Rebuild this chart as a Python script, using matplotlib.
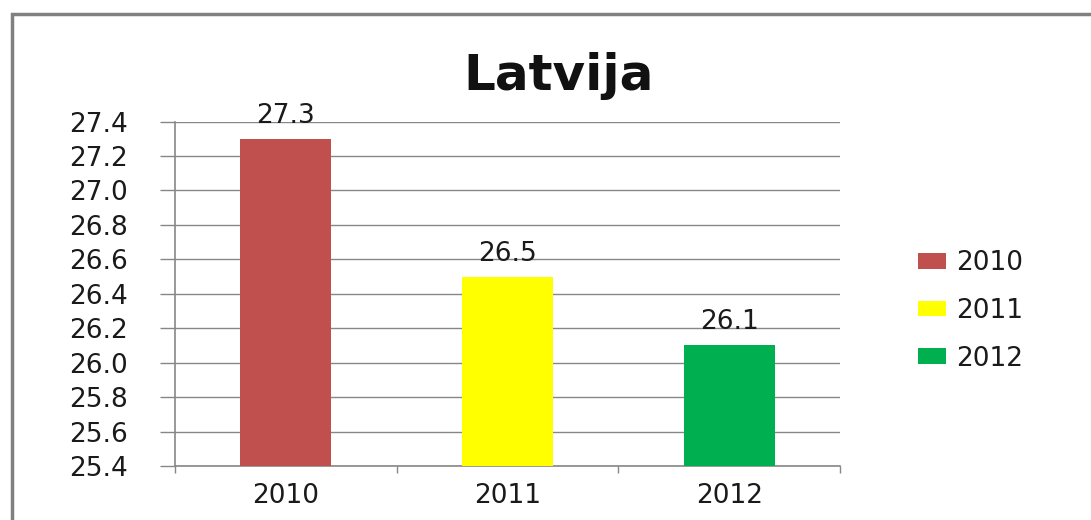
import matplotlib.pyplot as plt
from matplotlib.patches import Patch, Rectangle

# --- Data ---
years = ["2010", "2011", "2012"]
values = [27.3, 26.5, 26.1]
colors = ["#C0504D", "#FFFF00", "#00B050"]
yticks = [25.4, 25.6, 25.8, 26.0, 26.2, 26.4, 26.6, 26.8, 27.0, 27.2, 27.4]

plt.rcParams['font.family'] = ['DejaVu Sans']
grid_col = "#878787"
txt_col = "#1a1a1a"
fs = 19

fig = plt.figure(figsize=(10.91, 5.20), dpi=100)
ax = fig.add_axes([0.1604, 0.1038, 0.6095, 0.6625])

xs = list(range(len(years)))
ax.bar(xs, values, width=0.41, color=colors, zorder=3)

# --- value labels ---
for x, v in zip(xs, values):
    ax.annotate(f"{v:.1f}", (x, v), xytext=(0, 11.5), textcoords="offset points",
                ha="center", va="baseline", fontsize=fs, color=txt_col)

ax.set_ylim(25.4, 27.4)
ax.set_xlim(-0.5, 2.5)
ax.set_yticks(yticks)
ax.set_yticklabels([f"{t:.1f}" for t in yticks])
ax.set_xticks(xs)
ax.set_xticklabels(years)
ax.set_xticks([-0.5, 0.5, 1.5, 2.5], minor=True)

ax.yaxis.grid(True, color=grid_col, linewidth=1, zorder=0)
ax.set_axisbelow(True)
for s in ["top", "right"]:
    ax.spines[s].set_visible(False)
for s in ["left", "bottom"]:
    ax.spines[s].set_color(grid_col)
    ax.spines[s].set_linewidth(1.2)

ax.tick_params(axis="y", length=11, width=1, color=grid_col, pad=23,
               labelsize=fs, labelcolor=txt_col)
ax.tick_params(axis="x", which="major", length=0, pad=12,
               labelsize=fs, labelcolor=txt_col)
ax.tick_params(axis="x", which="minor", length=5, width=1, color=grid_col)

# --- title ---
fig.text(0.512, 1 - 71 / 520, "Latvija", ha="center", va="center_baseline",
         fontsize=36, fontweight="bold", color="#111111")

# --- legend ---
handles = [Patch(facecolor=c, edgecolor="none") for c in colors]
fig.legend(handles, years, loc="center left", bbox_to_anchor=(0.841, 0.402),
           frameon=False, fontsize=fs, handlelength=1.06, handleheight=0.53,
           handletextpad=0.42, labelspacing=0.82, borderpad=0, borderaxespad=0,
           labelcolor=txt_col)

# --- outer chart border ---
fig.patches.append(Rectangle((12 / 1091, -0.05), 1.2, 1 - 14 / 520 + 0.05,
                             transform=fig.transFigure, fill=False,
                             edgecolor="#808080", linewidth=2.5))

fig.savefig("out.png", dpi=100)
